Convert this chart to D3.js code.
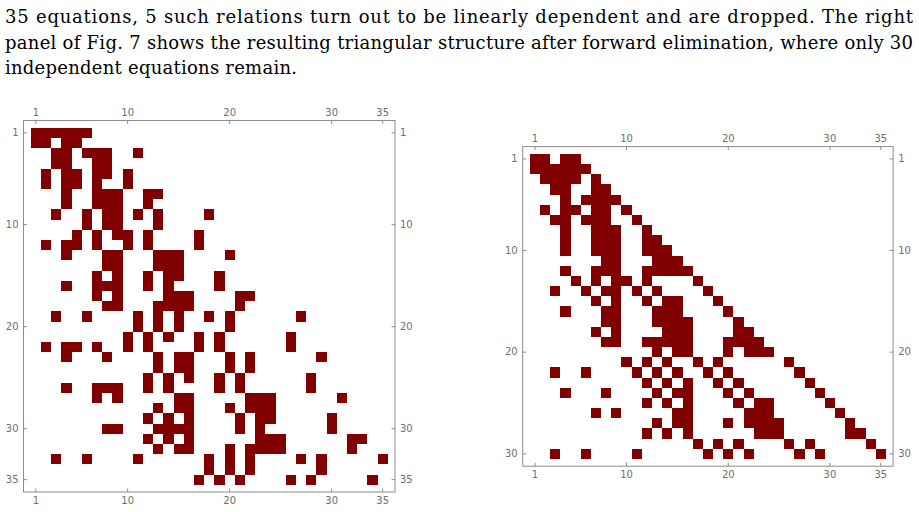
<!DOCTYPE html>
<meta charset="utf-8">

<!-- Load d3.js -->
<script src="https://d3js.org/d3.v7.min.js"></script>

<style>
  body { margin: 0; background: #fff; }
  .para { font-family: "DejaVu Serif", serif; }
</style>

<!-- Create a div where the graph will take place -->
<div id="my_dataviz"></div>

<script>

// Paragraph above the figure
var textLines = [
    "35 equations, 5 such relations turn out to be linearly dependent and are dropped.  The right",
    "panel of Fig. 7 shows the resulting triangular structure after forward elimination, where only 30",
    "independent equations remain."
];

// Tick labels
var colTicks = [1, 10, 20, 30, 35];
var leftRowTicks = [1, 10, 20, 30, 35];
var rightRowTicks = [1, 10, 20, 30];
var nCols = 35;

// Nonzero columns of each row, left panel (35 equations)
var leftRows = [
    [1, 2, 3, 4, 5, 6],
    [1, 2, 4, 5],
    [3, 4, 6, 7, 8, 11],
    [3, 4, 7, 8],
    [2, 4, 5, 7, 8, 10],
    [2, 4, 5, 7, 10],
    [4, 7, 8, 9, 12, 13],
    [4, 7, 8, 9, 12],
    [3, 6, 8, 9, 11, 13, 18],
    [6, 8, 9, 13],
    [5, 7, 9, 10, 12, 17],
    [2, 4, 5, 7, 10, 12, 17],
    [4, 8, 9, 13, 14, 15, 20],
    [8, 9, 13, 14, 15],
    [7, 9, 12, 14, 15, 19],
    [4, 7, 8, 9, 12, 14, 19],
    [7, 9, 14, 15, 16, 21, 22],
    [8, 9, 13, 14, 15, 16, 21],
    [3, 6, 11, 13, 15, 18, 20, 27],
    [11, 13, 15, 20],
    [10, 12, 14, 17, 19, 26],
    [2, 4, 5, 7, 10, 12, 17, 19, 26],
    [4, 8, 13, 15, 16, 20, 22, 29],
    [13, 15, 16, 20, 22],
    [12, 14, 16, 19, 21, 28],
    [4, 7, 8, 9, 12, 14, 19, 21, 28],
    [7, 9, 15, 16, 22, 23, 24, 31],
    [13, 15, 16, 20, 22, 23, 24],
    [12, 14, 16, 21, 23, 24, 30],
    [8, 9, 13, 14, 15, 16, 21, 23, 30],
    [12, 14, 16, 23, 24, 25, 32, 33],
    [13, 15, 16, 20, 22, 23, 24, 25, 32],
    [3, 6, 11, 18, 20, 22, 27, 29, 35],
    [18, 20, 22, 29],
    [17, 19, 21, 26, 28, 34]
];

// Nonzero columns of each row, right panel (after forward elimination)
var rightRows = [
    [1, 2, 4, 5],
    [1, 2, 3, 4, 5, 6],
    [2, 3, 4, 5, 7],
    [3, 4, 7, 8],
    [4, 6, 7, 8, 9],
    [2, 4, 5, 7, 8, 10],
    [3, 4, 6, 7, 8, 11],
    [4, 7, 8, 9, 12],
    [4, 7, 8, 9, 12, 13],
    [4, 7, 8, 9, 12, 13, 14],
    [8, 9, 13, 14, 15],
    [4, 7, 8, 9, 12, 13, 14, 15, 16],
    [5, 7, 9, 10, 12, 17],
    [3, 6, 8, 9, 11, 13, 18],
    [7, 9, 12, 14, 15, 19],
    [4, 8, 9, 13, 14, 15, 20],
    [8, 9, 13, 14, 15, 16, 21],
    [7, 9, 14, 15, 16, 21, 22],
    [8, 9, 12, 13, 14, 15, 16, 20, 21, 22, 23],
    [13, 15, 16, 20, 22, 23, 24],
    [10, 12, 14, 17, 19, 26],
    [3, 6, 11, 13, 15, 18, 20, 27],
    [12, 14, 16, 19, 21, 28],
    [4, 8, 13, 15, 16, 20, 22, 29],
    [12, 14, 16, 21, 23, 24, 30],
    [7, 9, 15, 16, 22, 23, 24, 31],
    [13, 15, 16, 20, 22, 23, 24, 25, 32],
    [12, 14, 16, 23, 24, 25, 32, 33],
    [17, 19, 21, 26, 28, 34],
    [3, 6, 11, 18, 20, 22, 27, 29, 35]
];

var svg = d3.select("#my_dataviz")
    .append("svg")
    .attr("width", 919)
    .attr("height", 512);

// Paragraph text (first two lines justified to the full width)
var lineX = 5;
var lineY = [23, 49, 74];
var lineLen = [908, 908, 292];
svg.selectAll(".para")
    .data(textLines)
    .enter()
    .append("text")
    .attr("class", "para")
    .attr("x", lineX)
    .attr("y", function(d, i) { return lineY[i]; })
    .attr("textLength", function(d, i) { return lineLen[i]; })
    .attr("lengthAdjust", "spacing")
    .attr("font-size", 18)
    .attr("fill", "#000")
    .text(function(d) { return d; });

// Draws one MatrixPlot-like panel
function drawPanel(rows, rowTicks, fx, fy, cell) {
    var pad = 7.25;
    var nRows = rows.length;
    var fw = nCols * cell + 2 * pad,
        fh = nRows * cell + 2 * pad;

    var x = d3.scaleBand()
        .domain(d3.range(1, nCols + 1))
        .range([fx + pad, fx + fw - pad]);
    var y = d3.scaleBand()
        .domain(d3.range(1, nRows + 1))
        .range([fy + pad, fy + fh - pad]);

    // flatten the pattern
    var cells = [];
    rows.forEach(function(cols, i) {
        cols.forEach(function(c) { cells.push({r: i + 1, c: c}); });
    });

    var g = svg.append("g");

    g.selectAll("rect.cell")
        .data(cells)
        .enter()
        .append("rect")
        .attr("class", "cell")
        .attr("x", function(d) { return x(d.c); })
        .attr("y", function(d) { return y(d.r); })
        .attr("width", x.bandwidth())
        .attr("height", y.bandwidth())
        .attr("shape-rendering", "crispEdges")
        .style("fill", "#800000");

    // frame
    g.append("rect")
        .attr("x", fx)
        .attr("y", fy)
        .attr("width", fw)
        .attr("height", fh)
        .style("fill", "none")
        .style("stroke", "#8c8c8c")
        .style("stroke-width", 1);

    var axes = [
        {ax: d3.axisTop(x).tickValues(colTicks), t: "translate(0," + fy + ")"},
        {ax: d3.axisBottom(x).tickValues(colTicks), t: "translate(0," + (fy + fh) + ")"},
        {ax: d3.axisLeft(y).tickValues(rowTicks), t: "translate(" + fx + ",0)"},
        {ax: d3.axisRight(y).tickValues(rowTicks), t: "translate(" + (fx + fw) + ",0)"}
    ];
    axes.forEach(function(a) {
        var ag = g.append("g")
            .attr("transform", a.t)
            .call(a.ax.tickSize(-3.5).tickPadding(5));
        ag.select(".domain").remove();
        ag.selectAll("line").style("stroke", "#8c8c8c");
        ag.selectAll("text")
            .style("font-family", "'DejaVu Sans', sans-serif")
            .style("font-size", "10px")
            .style("fill", "#6e6e6e");
    });
}

drawPanel(leftRows, leftRowTicks, 23.5, 120.5, 10.2);
drawPanel(rightRows, rightRowTicks, 522.7, 146.6, 10.17);

</script>
